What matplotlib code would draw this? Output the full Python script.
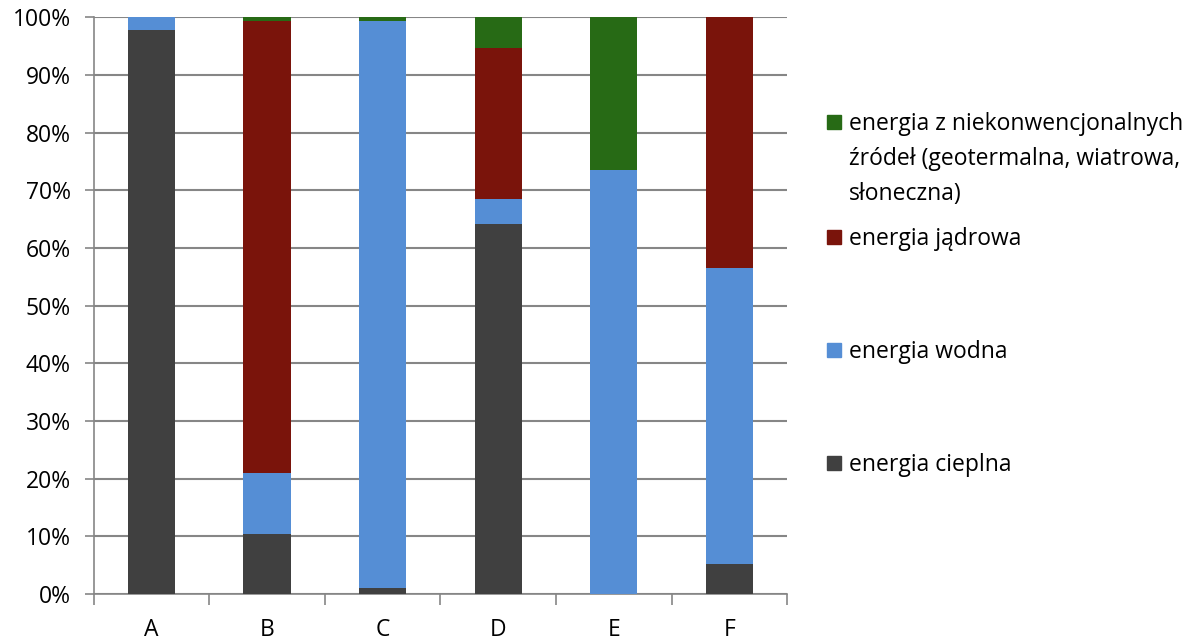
import numpy as np
import matplotlib.pyplot as plt
from matplotlib.patches import Rectangle

# data (percent shares)
categories = ['A', 'B', 'C', 'D', 'E', 'F']
cieplna = [97.8, 10.4, 1.0, 64.2, 0.0, 5.2]
wodna = [2.2, 10.6, 98.4, 4.3, 73.6, 51.3]
jadrowa = [0.0, 78.4, 0.0, 26.2, 0.0, 43.5]
niekonw = [0.0, 0.6, 0.6, 5.3, 26.4, 0.0]

labels = ['energia cieplna', 'energia wodna', 'energia jądrowa',
          'energia z niekonwencjonalnych\nźródeł (geotermalna, wiatrowa,\nsłoneczna)']
colors = ['#404040', '#558ED5', '#7A140B', '#276A15']

plt.rcParams['font.family'] = ['Open Sans', 'DejaVu Sans']
fs = 16.5

fig = plt.figure(figsize=(12, 6.4), dpi=100)
ax = fig.add_axes([0.078, 0.072, 0.578, 0.901])

x = np.arange(len(categories))
bottom = np.zeros(len(categories))
for vals, col in zip([cieplna, wodna, jadrowa, niekonw], colors):
    ax.bar(x, vals, bottom=bottom, width=0.41, color=col, zorder=3)
    bottom += np.array(vals)

ax.set_xlim(-0.5, len(categories) - 0.5)
ax.set_ylim(0, 100)
ax.set_yticks(np.arange(0, 101, 10))
ax.set_yticklabels([f'{v}%' for v in range(0, 101, 10)])
ax.set_xticks(x)
ax.set_xticklabels(categories)
ax.set_xticks(np.arange(-0.5, len(categories)), minor=True)

ax.grid(axis='y', color='#868686', linewidth=1.5, zorder=0)
for s in ['top', 'right']:
    ax.spines[s].set_visible(False)
ax.spines['left'].set_color('#868686')
ax.spines['bottom'].set_color('#868686')
ax.spines['left'].set_linewidth(1.2)
ax.spines['bottom'].set_linewidth(1.2)
ax.tick_params(axis='x', which='major', length=0, pad=17, labelsize=fs)
ax.tick_params(axis='x', which='minor', length=8, color='#868686', width=1.2)
ax.tick_params(axis='y', length=6.5, color='#868686', width=1.2, labelsize=fs, pad=10)

# legend, Excel-style: reverse order, markers aligned with first text line
leg_y = [463, 350, 237, 122]
for lab, col, yy in zip(labels, colors, leg_y):
    yf = 1 - yy / 640
    fig.patches.append(Rectangle((827 / 1200, yf - 7 / 640), 14 / 1200, 14 / 640,
                                 transform=fig.transFigure, color=col))
    fig.text(849 / 1200, yf + 10 / 640, lab, va='top', ha='left', fontsize=fs,
             linespacing=1.6)

fig.savefig('out.png', dpi=100)
